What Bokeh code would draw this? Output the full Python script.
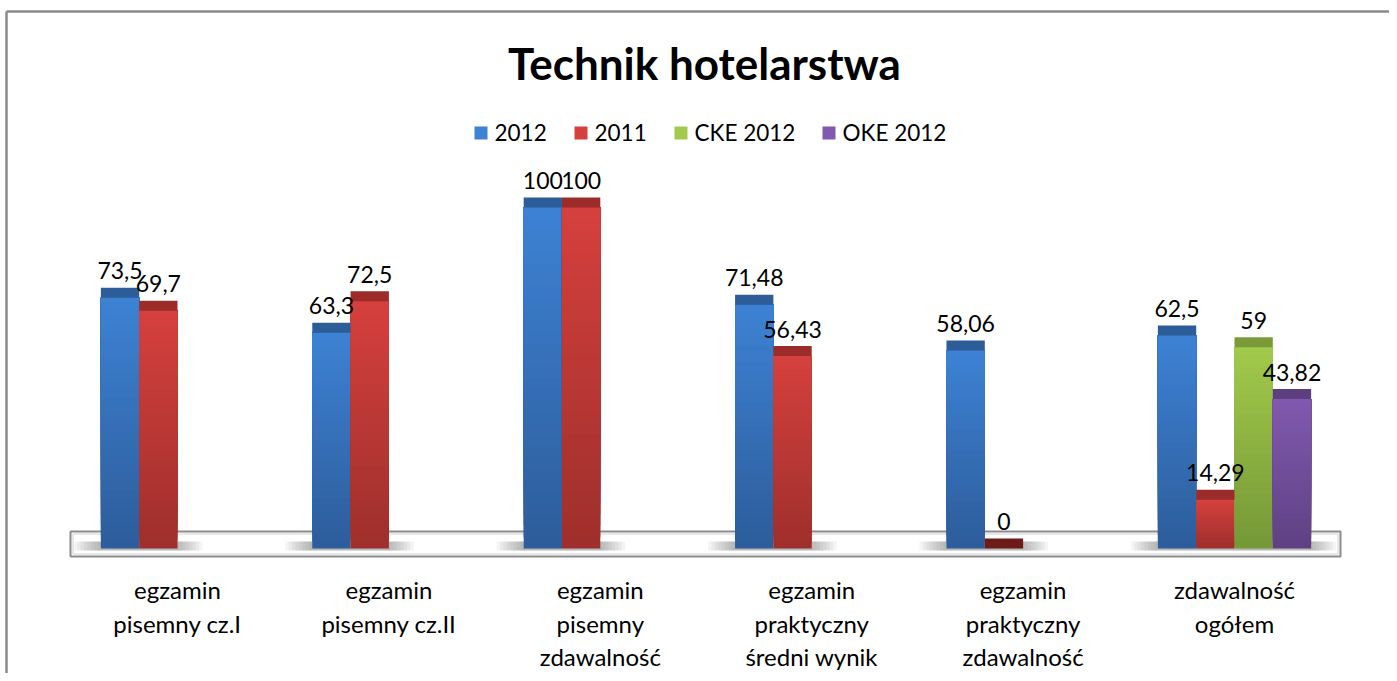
from bokeh.plotting import figure
from bokeh.models import Range1d, ColumnDataSource
from bokeh.core.properties import value
from bokeh.embed import file_html
from bokeh.resources import INLINE

# ---------------- data ----------------
title_text = "Technik hotelarstwa"
categories = [
    ["egzamin", "pisemny cz.I"],
    ["egzamin", "pisemny cz.II"],
    ["egzamin", "pisemny", "zdawalność"],
    ["egzamin", "praktyczny", "średni wynik"],
    ["egzamin", "praktyczny", "zdawalność"],
    ["zdawalność", "ogółem"],
]
series_names = ["2012", "2011", "CKE 2012", "OKE 2012"]
v_2012 = [73.5, 63.3, 100, 71.48, 58.06, 62.5]
v_2011 = [69.7, 72.5, 100, 56.43, 0, 14.29]
v_cke2012 = [None, None, None, None, None, 59]
v_oke2012 = [None, None, None, None, None, 43.82]
series_values = [v_2012, v_2011, v_cke2012, v_oke2012]

# ---------------- styling ----------------
top_colors = ["#3D82D4", "#D5403D", "#A2CA4B", "#8159AF"]
bot_colors = ["#2D5C9A", "#9E2F2C", "#759737", "#5E4182"]
cap_colors = ["#2C5D98", "#9B2C29", "#7B9A39", "#5D3F80"]
zero_cap = "#6C1B18"
FONT = "Lato"

W, H = 1389, 673
CAT_PX = 211.4
X0_PX = 71.3
PX_PER_UNIT = 3.41
BASE_PX = 538.0


def X(px):  # pixel -> data x
    return (px - X0_PX) / CAT_PX


def Y(py):  # pixel -> data y
    return (BASE_PX - py) / PX_PER_UNIT


p = figure(width=W, height=H, output_backend="svg", toolbar_location=None,
           x_range=Range1d(X(0), X(W)), y_range=Range1d(Y(H), Y(0)),
           x_axis_location=None, y_axis_location=None, min_border=0,
           background_fill_color="white", border_fill_color="white")
p.outline_line_color = None
p.grid.visible = False

# chart border (top and left)
p.segment(x0=[X(6)], y0=[Y(11)], x1=[X(W)], y1=[Y(11)], line_color="#8A8A8A", line_width=2.5)
p.segment(x0=[X(6)], y0=[Y(11)], x1=[X(6)], y1=[Y(H)], line_color="#8A8A8A", line_width=2.5)

# title
p.text(x=[X(704)], y=[Y(62)], text=[title_text], text_font=value(FONT), text_font_style="bold",
       text_font_size="44px", text_align="center", text_baseline="middle", text_color="black")

# legend
leg_sq_px = [474, 574, 674, 822]
for j, name in enumerate(series_names):
    x0 = leg_sq_px[j]
    p.quad(left=[X(x0)], right=[X(x0 + 13)], bottom=[Y(139)], top=[Y(126)],
           fill_color=top_colors[j], line_color=None)
    p.text(x=[X(x0 + 20)], y=[Y(132)], text=[name], text_font=value(FONT), text_font_size="22.5px",
           text_align="left", text_baseline="middle", text_color="black")

# floor
p.quad(left=[X(70)], right=[X(1340)], bottom=[Y(556)], top=[Y(531)], fill_color="white",
       line_color="#8C8C8C", line_width=2)
p.quad(left=[X(72.5)], right=[X(1337.5)], bottom=[Y(553.5)], top=[Y(533.5)], fill_color=None,
       line_color="#D0D0D0", line_width=1)

n_series = len(series_values)
bar_w = 0.18125
cap_units = 10 / PX_PER_UNIT


def lerp(c1, c2, t):
    a = [int(c1[i:i + 2], 16) for i in (1, 3, 5)]
    b = [int(c2[i:i + 2], 16) for i in (1, 3, 5)]
    return "#%02x%02x%02x" % tuple(round(a[k] + (b[k] - a[k]) * t) for k in range(3))


# shadows on the floor
for i in range(len(categories)):
    present = [j for j in range(n_series) if series_values[j][i] is not None]
    if not present:
        continue
    left = i + 0.5 - bar_w * n_series / 2 + bar_w * present[0]
    right = i + 0.5 - bar_w * n_series / 2 + bar_w * (present[-1] + 1)
    for k in range(8):
        inset = k * 3.4 / CAT_PX
        p.quad(left=[left - 27 / CAT_PX + inset], right=[right + 25 / CAT_PX - inset],
               bottom=[Y(550)], top=[Y(541)], fill_color="#6A6A6A", fill_alpha=0.075, line_color=None)

# bars with vertical gradient (stacked layers, no seams)
N = 30
sl, sr, sb, st, sc = [], [], [], [], []
cl, cr, cb, ct, cc = [], [], [], [], []
lab_x, lab_y, lab_t = [], [], []
for j, vals in enumerate(series_values):
    for i, v in enumerate(vals):
        if v is None:
            continue
        left = i + 0.5 - bar_w * n_series / 2 + bar_w * j
        right = left + bar_w
        b0 = -cap_units
        b1 = v - cap_units
        if b1 > b0:
            for k in range(N):
                sl.append(left)
                sr.append(right)
                sb.append(b0 + (b1 - b0) * k / N)
                st.append(b1)
                sc.append(lerp(bot_colors[j], top_colors[j], (k + 0.5) / N))
        cl.append(left)
        cr.append(right)
        cb.append(b1)
        ct.append(v)
        cc.append(cap_colors[j] if v > 0 else zero_cap)
        lab_x.append((left + right) / 2)
        lab_y.append(v)
        lab_t.append(f"{v:g}".replace(".", ","))

p.quad(source=ColumnDataSource(dict(l=sl, r=sr, b=sb, t=st, c=sc)), left="l", right="r",
       bottom="b", top="t", fill_color="c", line_color=None)
p.quad(source=ColumnDataSource(dict(l=cl, r=cr, b=cb, t=ct, c=cc)), left="l", right="r",
       bottom="b", top="t", fill_color="c", line_color=None)

p.text(x=lab_x, y=lab_y, text=lab_t, text_font=value(FONT), text_font_size="23px",
       text_align="center", text_baseline="middle", y_offset=-17, text_color="black")

# category labels
line_mid_px = [589, 623, 656]
for i, lines in enumerate(categories):
    for r, line in enumerate(lines):
        p.text(x=[i + 0.5], y=[Y(line_mid_px[r])], text=[line], text_font=value(FONT),
               text_font_size="24px", text_align="center", text_baseline="middle",
               text_color="black")

open("out.html", "w").write(file_html(p, INLINE))
